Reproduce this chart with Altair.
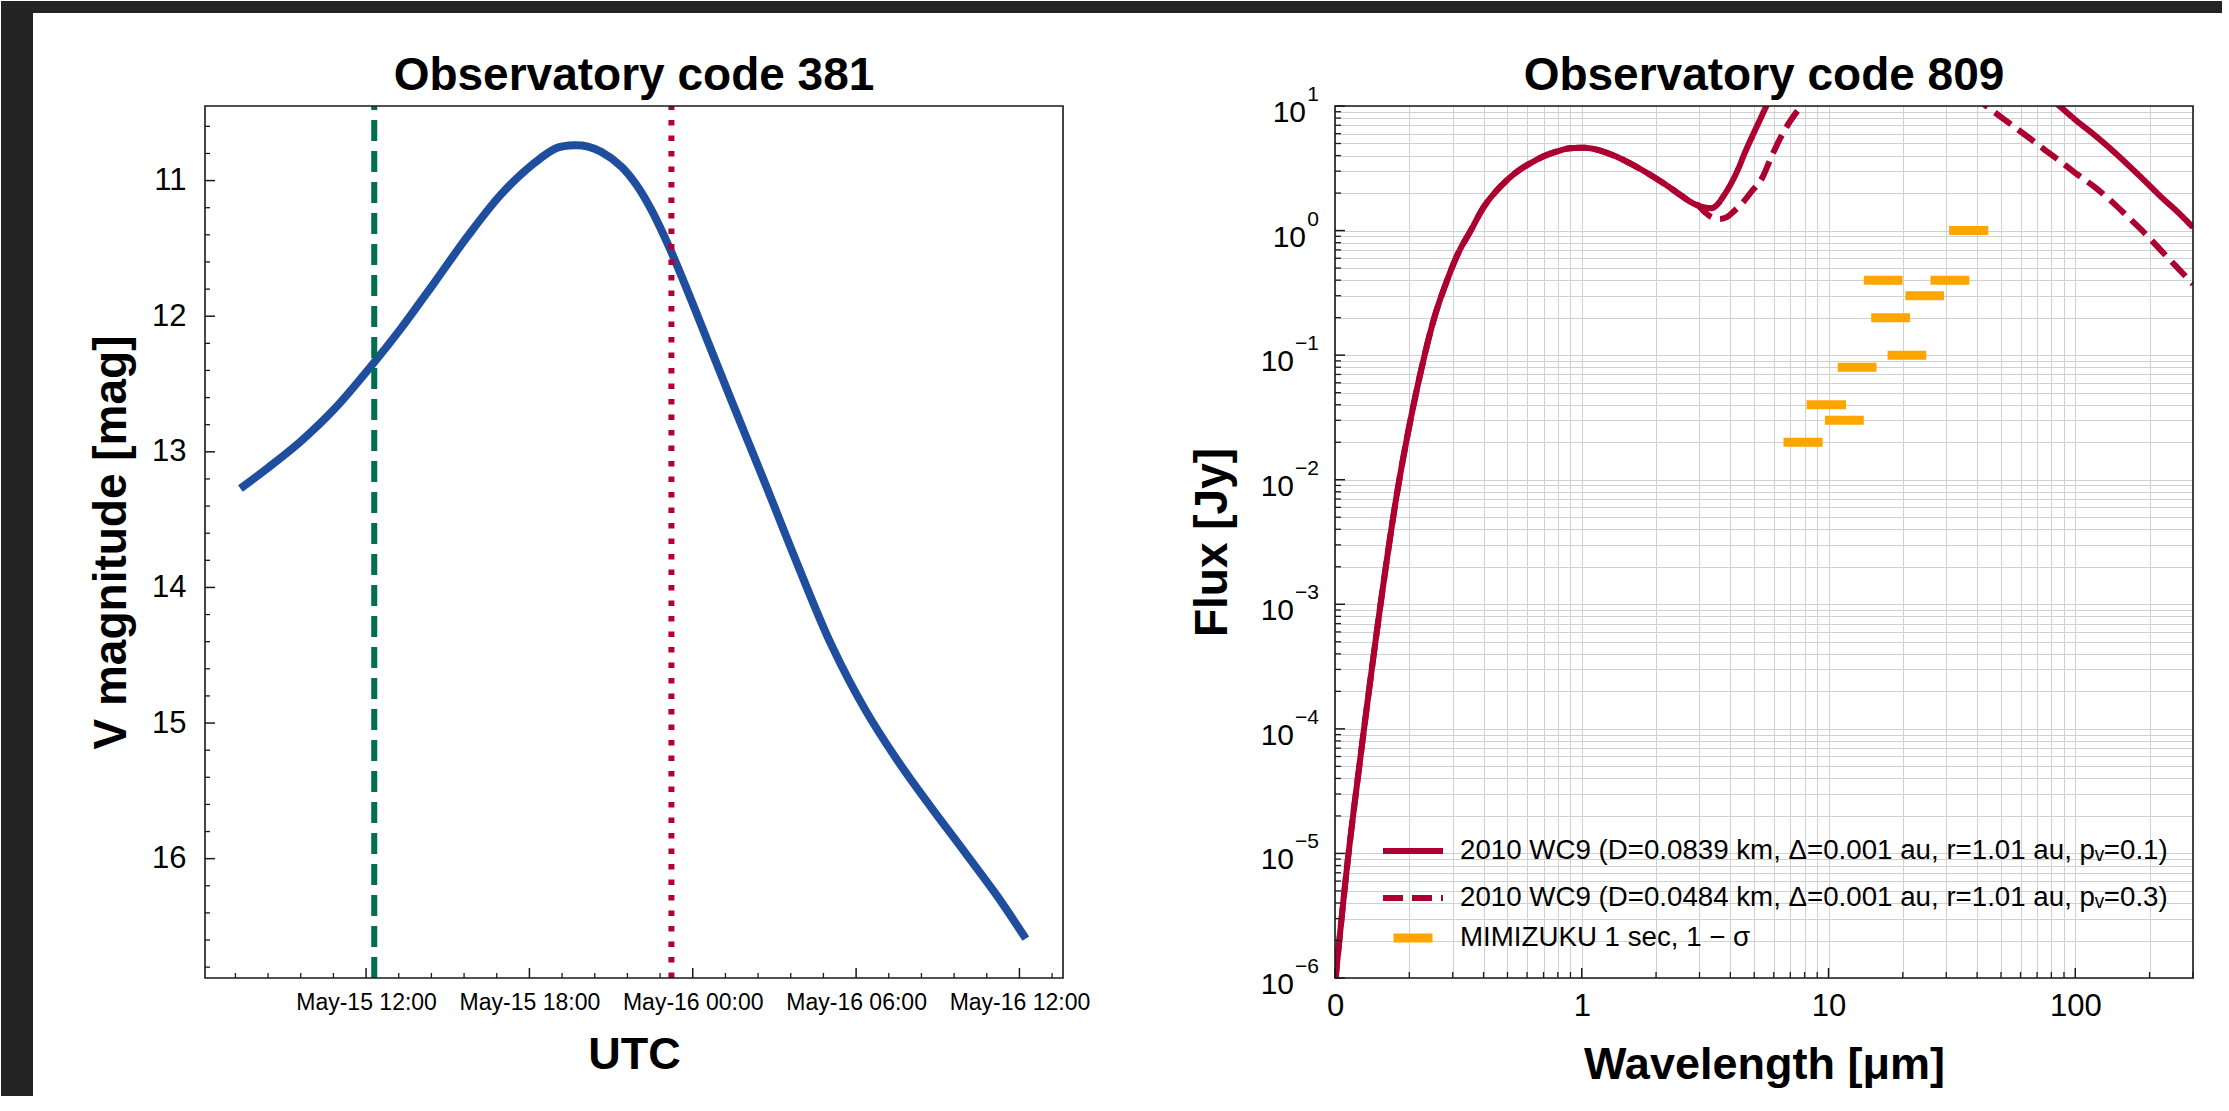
import json
import altair as alt
import pandas as pd

FONT = "Liberation Sans"
BLUE = "#1f4e9f"
GREEN = "#006e4f"
RED_DOT = "#b3002d"
RED = "#ad0030"
ORANGE = "#ffa500"
INK = "#1a1a1a"
GRID = "#d0d0d0"
DARK_EDGE = "#242424"

W, H = 858, 872

# ---------------- left panel : light curve (observatory 381) ----------------
TITLE_LEFT = "Observatory code 381"
lc_time = [
    "2018-05-15T07:23:00Z", "2018-05-15T08:23:00Z", "2018-05-15T09:37:00Z",
    "2018-05-15T10:50:00Z", "2018-05-15T12:18:00Z", "2018-05-15T13:17:00Z",
    "2018-05-15T14:31:00Z", "2018-05-15T15:44:00Z", "2018-05-15T16:58:00Z",
    "2018-05-15T18:11:00Z", "2018-05-15T19:00:00Z", "2018-05-15T19:39:00Z",
    "2018-05-15T20:09:00Z", "2018-05-15T20:38:00Z", "2018-05-15T21:22:00Z",
    "2018-05-15T21:55:00Z", "2018-05-15T22:28:00Z", "2018-05-15T23:12:00Z",
    "2018-05-16T00:11:00Z", "2018-05-16T01:25:00Z", "2018-05-16T02:38:00Z",
    "2018-05-16T03:52:00Z", "2018-05-16T05:05:00Z", "2018-05-16T06:18:00Z",
    "2018-05-16T07:32:00Z", "2018-05-16T08:45:00Z", "2018-05-16T09:59:00Z",
    "2018-05-16T11:12:00Z", "2018-05-16T12:14:00Z",
]
lc_mag = [13.27, 13.12, 12.92, 12.685, 12.34, 12.09, 11.75, 11.41, 11.10,
          10.87, 10.76, 10.74, 10.75, 10.788, 10.895, 11.027, 11.211, 11.521,
          12.00, 12.62, 13.22, 13.84, 14.42, 14.89, 15.28, 15.62, 15.95,
          16.28, 16.59]

green_time = ["2018-05-15T12:18:00Z"]
red_time = ["2018-05-15T23:13:00Z"]

time_domain = ["2018-05-15T06:05:00Z", "2018-05-16T13:36:00Z"]
time_major = ["2018-05-15T12:00:00Z", "2018-05-15T18:00:00Z", "2018-05-16T00:00:00Z",
              "2018-05-16T06:00:00Z", "2018-05-16T12:00:00Z"]
time_minor = [
    "2018-05-15T07:12:00Z", "2018-05-15T08:24:00Z", "2018-05-15T09:36:00Z",
    "2018-05-15T10:48:00Z", "2018-05-15T13:12:00Z", "2018-05-15T14:24:00Z",
    "2018-05-15T15:36:00Z", "2018-05-15T16:48:00Z", "2018-05-15T19:12:00Z",
    "2018-05-15T20:24:00Z", "2018-05-15T21:36:00Z", "2018-05-15T22:48:00Z",
    "2018-05-16T01:12:00Z", "2018-05-16T02:24:00Z", "2018-05-16T03:36:00Z",
    "2018-05-16T04:48:00Z", "2018-05-16T07:12:00Z", "2018-05-16T08:24:00Z",
    "2018-05-16T09:36:00Z", "2018-05-16T10:48:00Z", "2018-05-16T13:12:00Z",
]
mag_domain = [10.45, 16.88]
mag_major = [11, 12, 13, 14, 15, 16]
mag_minor = [10.6, 10.8, 11.2, 11.4, 11.6, 11.8, 12.2, 12.4, 12.6, 12.8,
             13.2, 13.4, 13.6, 13.8, 14.2, 14.4, 14.6, 14.8, 15.2, 15.4,
             15.6, 15.8, 16.2, 16.4, 16.6, 16.8]

# ---------------- right panel : SED (observatory 809) ----------------
TITLE_RIGHT = "Observatory code 809"
LAB_SOLID = "2010 WC9 (D=0.0839 km, \u0394=0.001 au, r=1.01 au, p\u1d65=0.1)"
LAB_DASH = "2010 WC9 (D=0.0484 km, \u0394=0.001 au, r=1.01 au, p\u1d65=0.3)"
LAB_MIMI = "MIMIZUKU 1 sec, 1 \u2212 \u03c3"

solid_wl = [0.100, 0.112, 0.126, 0.141, 0.158, 0.178, 0.200, 0.224, 0.251, 0.282,
            0.316, 0.355, 0.398, 0.447, 0.501, 0.562, 0.631, 0.708, 0.794, 0.891,
            1.000, 1.122, 1.259, 1.413, 1.585, 1.778, 1.995, 2.239, 2.512, 2.818,
            3.162, 3.350, 3.548, 3.733, 3.981, 4.295, 4.571, 4.864, 5.248, 5.598,
            6.31, 7.94, 10.0, 12.6, 15.8, 20.0, 25.1, 31.6, 39.8, 50.1,
            63.1, 70.8, 86.3, 100, 120, 141, 164, 191, 223, 263, 300]
solid_flux = [8.91e-7, 7.94e-6, 5.37e-5, 3.02e-4, 1.58e-3, 7.59e-3, 0.0269, 0.0776, 0.191, 0.380,
              0.661, 1.00, 1.514, 2.042, 2.570, 3.090, 3.548, 3.981, 4.315, 4.571,
              4.624, 4.519, 4.217, 3.846, 3.428, 3.020, 2.630, 2.265, 1.928, 1.660,
              1.531, 1.514, 1.622, 1.862, 2.291, 3.090, 4.169, 5.495, 7.586, 10.0,
              15.8, 35.5, 60, 79, 83, 76, 60, 45, 31.6, 22.9,
              16.6, 13.8, 10.0, 7.76, 5.82, 4.42, 3.35, 2.51, 1.86, 1.38, 1.06]
# the dashed model coincides with the solid one up to ~2.8 um
dash_shared = 30
dash_wl_tail = [2.95, 3.16, 3.39, 3.61, 3.89, 4.17, 4.47, 4.86, 5.41, 5.89,
                6.61, 7.67, 8.91, 11.2, 14.1, 17.8, 22.4, 28.2, 35.5, 39.8,
                43.6, 52.5, 64.3, 75.0, 87.7, 102, 120, 141, 164, 191,
                223, 257, 300]
dash_flux_tail = [1.60, 1.40, 1.27, 1.24, 1.29, 1.45, 1.66, 2.04, 2.69, 3.98,
                  6.31, 9.77, 14.1, 22.4, 28.2, 28.2, 24.0, 17.8, 13.2, 11.5,
                  10.0, 7.59, 5.64, 4.47, 3.55, 2.82, 2.23, 1.70, 1.28, 0.955,
                  0.690, 0.513, 0.372]

bar_lo = [6.57, 8.15, 9.67, 10.9, 13.9, 14.9, 17.35, 20.5, 25.9, 30.8]
bar_hi = [9.46, 11.77, 13.9, 15.65, 19.95, 21.4, 24.9, 29.4, 37.2, 44.4]
bar_flux = [0.020, 0.040, 0.030, 0.080, 0.40, 0.20, 0.10, 0.30, 0.40, 1.0]

wl_domain = [0.1, 300]
flux_domain = [1e-6, 10]
wl_major = [0.1, 1, 10, 100]
wl_major_labels = ["0", "1", "10", "100"]
flux_exponents = [-6, -5, -4, -3, -2, -1, 0, 1]
flux_exp_text = ["\u22126", "\u22125", "\u22124", "\u22123", "\u22122", "\u22121", "0", "1"]
flux_major = [float(f"1e{e}") for e in flux_exponents]
wl_minor = [float(f"{k}e{e}") for e in (-1, 0, 1) for k in range(2, 10)] + [200.0, 300.0]
flux_minor = [float(f"{k}e{e}") for e in range(-6, 1) for k in range(2, 10)]
wl_grid = sorted(wl_major + wl_minor)
flux_grid = sorted(flux_major + flux_minor)


def dt(s):
    t = pd.Timestamp(s)
    return alt.DateTime(year=t.year, month=t.month, date=t.day,
                        hours=t.hour, minutes=t.minute, utc=True)


one = pd.DataFrame({"k": [0]})

# ======================= LEFT PANEL =======================
x_scale_l = alt.Scale(type="utc", domain=[dt(s) for s in time_domain], nice=False)
y_scale_l = alt.Scale(domain=mag_domain, reverse=True, nice=False, zero=False)

x_axis_l = alt.Axis(
    values=[dt(s) for s in time_major],
    labelExpr="utcFormat(datum.value, '%b-%d %H:%M')",
    ticks=False, tickSize=0, domain=False, grid=False,
    labelFont=FONT, labelFontSize=23, labelColor="black", labelPadding=13,
    labelOverlap=False, labelFlush=False,
    title="UTC", titleFont=FONT, titleFontSize=45, titleFontWeight="bold",
    titleColor="black", titleBaseline="alphabetic", titleY=90,
)
y_axis_l = alt.Axis(
    values=mag_major, format="d",
    ticks=False, tickSize=0, domain=False, grid=False,
    labelFont=FONT, labelFontSize=31, labelColor="black", labelPadding=19,
    title="V magnitude [mag]", titleFont=FONT, titleFontSize=46, titleFontWeight="bold",
    titleColor="black", titleAngle=270, titleBaseline="alphabetic",
    titleX=-80, titleY=H / 2, titleAlign="center",
)

X_l = lambda: alt.X("time:T", scale=x_scale_l, axis=x_axis_l)
Y_l = lambda: alt.Y("mag:Q", scale=y_scale_l, axis=y_axis_l)

# dark screenshot frame along the left and top edges of the page
edge_left = alt.Chart(one).mark_rect(color=DARK_EDGE).encode(
    x=alt.value(-204), x2=alt.value(-172), y=alt.value(-105), y2=alt.value(990)
)
edge_top = alt.Chart(one).mark_rect(color=DARK_EDGE).encode(
    x=alt.value(-204), x2=alt.value(2017), y=alt.value(-105), y2=alt.value(-93)
)
title_l = alt.Chart(one).mark_text(
    text=TITLE_LEFT, font=FONT, fontSize=46, fontWeight="bold", color="black",
    align="center", baseline="alphabetic",
).encode(x=alt.value(W / 2), y=alt.value(-16))

lc_df = pd.DataFrame({"time": lc_time, "mag": lc_mag})
curve = alt.Chart(lc_df).mark_line(color=BLUE, strokeWidth=8, interpolate="catmull-rom").encode(
    x=X_l(), y=Y_l()
)
vline_green = alt.Chart(pd.DataFrame({"time": green_time})).mark_rule(
    color=GREEN, strokeWidth=6, strokeDash=[21, 10], strokeCap="butt"
).encode(x=X_l(), y=alt.value(H), y2=alt.value(0))
vline_red = alt.Chart(pd.DataFrame({"time": red_time})).mark_rule(
    color=RED_DOT, strokeWidth=6, strokeDash=[5.5, 10], strokeCap="butt"
).encode(x=X_l(), y=alt.value(H), y2=alt.value(0))

tick_x_major_l = alt.Chart(pd.DataFrame({"time": time_major})).mark_rule(color=INK, strokeWidth=1.5).encode(
    x=X_l(), y=alt.value(H), y2=alt.value(H - 10))
tick_x_minor_l = alt.Chart(pd.DataFrame({"time": time_minor})).mark_rule(color=INK, strokeWidth=1.3).encode(
    x=X_l(), y=alt.value(H), y2=alt.value(H - 5))
tick_y_major_l = alt.Chart(pd.DataFrame({"mag": mag_major})).mark_rule(color=INK, strokeWidth=1.5).encode(
    y=Y_l(), x=alt.value(0), x2=alt.value(10))
tick_y_minor_l = alt.Chart(pd.DataFrame({"mag": mag_minor})).mark_rule(color=INK, strokeWidth=1.3).encode(
    y=Y_l(), x=alt.value(0), x2=alt.value(5))

frame_l = alt.Chart(one).mark_rect(filled=False, color=INK, strokeWidth=1.6).encode(
    x=alt.value(0), x2=alt.value(W), y=alt.value(0), y2=alt.value(H))

left = alt.layer(
    edge_left, edge_top, title_l, curve, vline_green, vline_red,
    tick_x_major_l, tick_x_minor_l, tick_y_major_l, tick_y_minor_l, frame_l,
).properties(width=W, height=H)

# ======================= RIGHT PANEL =======================
x_scale_r = alt.Scale(type="log", domain=wl_domain, nice=False)
y_scale_r = alt.Scale(type="log", domain=flux_domain, nice=False)

wl_label_expr = (
    "indexof(" + json.dumps(wl_major) + ", datum.value) >= 0 ? "
    + json.dumps(wl_major_labels) + "[indexof(" + json.dumps(wl_major) + ", datum.value)] : ''"
)

x_axis_r = alt.Axis(
    values=wl_grid, labelExpr=wl_label_expr,
    ticks=False, tickSize=0, domain=False, grid=True, gridColor=GRID, gridWidth=1,
    labelFont=FONT, labelFontSize=31, labelColor="black", labelPadding=13,
    labelOverlap=False, labelFlush=False,
    title="Wavelength [\u03bcm]", titleFont=FONT, titleFontSize=45, titleFontWeight="bold",
    titleColor="black", titleBaseline="alphabetic", titleY=100,
)
y_axis_r = alt.Axis(
    values=flux_grid, labels=False,
    ticks=False, tickSize=0, domain=False, grid=True, gridColor=GRID, gridWidth=1,
    title="Flux [Jy]", titleFont=FONT, titleFontSize=46, titleFontWeight="bold",
    titleColor="black", titleAngle=270, titleBaseline="alphabetic",
    titleX=-109, titleY=H / 2, titleAlign="center",
)

dash_wl = solid_wl[:dash_shared] + dash_wl_tail
dash_flux = solid_flux[:dash_shared] + dash_flux_tail
models_df = pd.DataFrame({
    "wl": solid_wl + dash_wl,
    "flux": solid_flux + dash_flux,
    "model": [LAB_SOLID] * len(solid_wl) + [LAB_DASH] * len(dash_wl),
})

legend_models = alt.Legend(
    title=None, orient="none", legendX=45, legendY=712, padding=0,
    symbolType="stroke", symbolSize=3600, symbolStrokeWidth=6,
    labelFont=FONT, labelFontSize=27.7, labelColor="black", labelLimit=2000,
    labelOffset=14, rowPadding=0,
)
legend_mimi = alt.Legend(
    title=None, orient="none", legendX=54, legendY=808, padding=0,
    symbolType="stroke", symbolSize=1521, symbolStrokeWidth=9,
    labelFont=FONT, labelFontSize=27.7, labelColor="black", labelLimit=2000,
    labelOffset=23,
)

X_r = lambda f: alt.X(f, scale=x_scale_r, axis=x_axis_r)
Y_r = lambda: alt.Y("flux:Q", scale=y_scale_r, axis=y_axis_r)

model_lines = alt.Chart(models_df).mark_line(
    strokeWidth=6, clip=True, strokeCap="butt", interpolate="monotone"
).encode(
    x=X_r("wl:Q"), y=Y_r(),
    color=alt.Color("model:N", scale=alt.Scale(domain=[LAB_SOLID, LAB_DASH], range=[RED, RED]),
                    legend=legend_models),
    strokeDash=alt.StrokeDash("model:N",
                              scale=alt.Scale(domain=[LAB_SOLID, LAB_DASH], range=[[1, 0], [20, 9]]),
                              legend=legend_models),
)

bars_df = pd.DataFrame({"lo": bar_lo, "hi": bar_hi, "flux": bar_flux, "inst": [LAB_MIMI] * len(bar_lo)})
bars = alt.Chart(bars_df).mark_rule(strokeWidth=9, strokeCap="butt").encode(
    x=X_r("lo:Q"), x2="hi:Q", y=Y_r(),
    stroke=alt.Stroke("inst:N", scale=alt.Scale(domain=[LAB_MIMI], range=[ORANGE]), legend=legend_mimi),
)

tick_x_major_r = alt.Chart(pd.DataFrame({"wl": wl_major})).mark_rule(color=INK, strokeWidth=1.5).encode(
    x=X_r("wl:Q"), y=alt.value(H), y2=alt.value(H - 10))
tick_x_minor_r = alt.Chart(pd.DataFrame({"wl": wl_minor})).mark_rule(color=INK, strokeWidth=1.3).encode(
    x=X_r("wl:Q"), y=alt.value(H), y2=alt.value(H - 6))
tick_y_major_r = alt.Chart(pd.DataFrame({"flux": flux_major})).mark_rule(color=INK, strokeWidth=1.5).encode(
    y=Y_r(), x=alt.value(0), x2=alt.value(10))
tick_y_minor_r = alt.Chart(pd.DataFrame({"flux": flux_minor})).mark_rule(color=INK, strokeWidth=1.3).encode(
    y=Y_r(), x=alt.value(0), x2=alt.value(6))

# y tick labels "10" with raised exponents, drawn as text at the tick values
exp_df = pd.DataFrame({"flux": flux_major, "exp": flux_exp_text, "neg": [e < 0 for e in flux_exponents]})
exp_text = alt.Chart(exp_df).mark_text(
    font=FONT, fontSize=21, color="black", align="right", baseline="alphabetic", dy=-5
).encode(y=Y_r(), x=alt.value(-16), text="exp:N")
base_neg = alt.Chart(exp_df[exp_df["neg"]]).mark_text(
    text="10", font=FONT, fontSize=30, color="black", align="right", baseline="alphabetic", dy=16
).encode(y=Y_r(), x=alt.value(-41))
base_pos = alt.Chart(exp_df[~exp_df["neg"]]).mark_text(
    text="10", font=FONT, fontSize=30, color="black", align="right", baseline="alphabetic", dy=16
).encode(y=Y_r(), x=alt.value(-29))

title_r = alt.Chart(one).mark_text(
    text=TITLE_RIGHT, font=FONT, fontSize=46, fontWeight="bold", color="black",
    align="center", baseline="alphabetic",
).encode(x=alt.value(W / 2), y=alt.value(-16))

frame_r = alt.Chart(one).mark_rect(filled=False, color=INK, strokeWidth=1.6).encode(
    x=alt.value(0), x2=alt.value(W), y=alt.value(0), y2=alt.value(H))

right = alt.layer(
    model_lines, bars, tick_x_major_r, tick_x_minor_r, tick_y_major_r, tick_y_minor_r,
    exp_text, base_neg, base_pos, title_r, frame_r,
).properties(width=W, height=H)

chart = alt.hconcat(left, right, spacing=272, bounds="flush").resolve_scale(
    color="independent", strokeDash="independent", stroke="independent"
).resolve_legend(
    color="independent", strokeDash="independent", stroke="independent"
).properties(
    background="white",
    padding={"left": 0, "top": 0, "right": 0, "bottom": 0},
).configure_view(stroke="transparent")

chart.save("out.html", embed_options={"renderer": "svg", "actions": False})
